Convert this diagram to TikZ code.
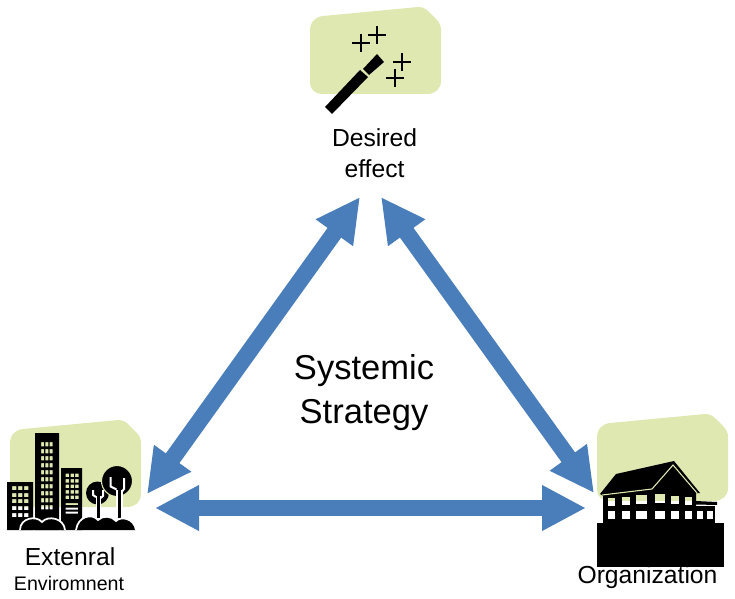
\documentclass[tikz,border=0pt]{standalone}
\usepackage{fontspec}
\setmainfont{Liberation Sans}
\usetikzlibrary{arrows.meta}
\definecolor{blobgreen}{RGB}{222,232,176}
\definecolor{arrowblue}{RGB}{74,126,187}
\tikzset{
    bigarrow/.style={draw=arrowblue,line width=12.5pt,{Triangle[length=33pt,width=32pt]}-{Triangle[length=33pt,width=32pt]}},
    blob/.pic={\fill[blobgreen] (0,24) .. controls (0,15) and (5,10) .. (13,9) -- (108,0) .. controls (113,0) and (116,2) .. (119,5) -- (126,12) .. controls (130,16) and (131,19) .. (131,24) -- (131,74) .. controls (131,82) and (125,87) .. (117,87) -- (12,87) .. controls (5,87) and (0,82) .. (0,76) -- cycle;},
    sparkle/.pic={\draw[line width=1.9pt] (-9,0)--(9,0) (0,-9)--(0,9);},
    biglabel/.style={font=\fontsize{25.9}{33}\selectfont,align=center},
    midlabel/.style={font=\fontsize{18.5}{23}\selectfont,align=center},
    smalllabel/.style={font=\fontsize{14.7}{18}\selectfont,align=center}
}
\begin{document}
\begin{tikzpicture}[x=0.75pt,y=-0.75pt]
                \useasboundingbox (0,0) rectangle (735,599);
                \pic at (310,7) {blob};
                \pic at (10,420) {blob};
                \pic at (597,414) {blob};
                \fill (325,107)--(332,114)--(368,77)--(360,70)--cycle;
                \fill (363,69)--(369,75)--(384,62)--(377,54)--cycle;
                \pic at (361,43) {sparkle};
                \pic at (377,35) {sparkle};
                \pic at (402,62) {sparkle};
                \pic at (395,78) {sparkle};
                \fill[even odd rule] (7,482) rectangle (33,530)
                    \foreach \col in {12,18,24} {\foreach \row in {486,493,499,506,513} {(\col,\row) rectangle (\col+4.4,\row+4.2)}};
                \fill[even odd rule] (35,433) rectangle (59,530)
                    \foreach \col in {41,45.3,49.6} {\foreach \row in {0,...,9} {(\col,442+7*\row) rectangle (\col+3,446.4+7*\row)}};
                \fill[even odd rule] (61,468) rectangle (82,530)
                    \foreach \col in {65.5,70.5,75} {\foreach \row in {0,...,4} {(\col,473.5+5.5*\row) rectangle (\col+3.6,477.2+5.5*\row)}}
                    (65.5,503) rectangle (78,505) (65.5,507.5) rectangle (78,509.5) (65.5,511.5) rectangle (78,513.5);
                \fill (97.5,493) circle (11.5);
                \draw[line width=0.8pt,blobgreen,fill=black] (117,481) circle (15.5);
                \draw[white,line width=3.8pt] (98.3,496)--(98.3,518);
                \draw[white,line width=4.6pt] (119.5,490)--(119.5,518);
                \draw[line width=1.8pt] (98.3,488)--(98.3,518);
                \draw[line width=2.4pt] (119.5,484)--(119.5,518);
                \draw[white,line width=1.5pt] (110.7,477)--(110.7,486.5)--(116.5,489.5) (124,478)--(124,489)--(122,491.5) (93,490)--(93,495)--(96,497) (103,490)--(103,496)--(101,498);
                \fill (20,530) .. controls (20,518) and (36,515) .. (42,522) .. controls (48,515) and (64,518) .. (65,530) -- cycle;
                \draw[white,line width=1.3pt] (20,530) .. controls (20,518) and (36,515) .. (42,522) .. controls (48,515) and (64,518) .. (65,530);
                \fill (76,530) .. controls (78,516) and (92,513) .. (98,520) .. controls (103,515) and (112,516) .. (116,521) .. controls (121,516) and (134,518) .. (136,530) -- cycle;
                \draw[white,line width=1.3pt] (76,530) .. controls (78,516) and (92,513) .. (98,520) .. controls (103,515) and (112,516) .. (116,521) .. controls (121,516) and (134,518) .. (136,530);
                \fill (597,523) rectangle (724,567);
                \fill (600,494)--(616,474)--(674,461)--(700,493)--(696,493)--(696,523)--(603,523)--(603,496)--cycle;
                \fill (696,501)--(717,502)--(717,505)--(696,504.5)--cycle;
                \fill (696,506) rectangle (715,523);
                \draw[blobgreen,line width=0.8pt] (602,495)--(652,489)--(673,465)--(697,493);
                \foreach \xa/\xb/\ya/\yb in {607.5/615/498/506,621.7/630.3/496.5/505,636.3/646.7/494.5/504,655.3/664.7/494/503,670.7/678.7/495.5/504,685/692/497/505} {
                    \fill[blobgreen] (\xa,\ya) rectangle (\xb,501);
                    \fill[white] (\xa,501) rectangle (\xb,\yb);
                }
                \foreach \xa/\xb in {607.5/615,621.7/630.3,636.3/646.7,655.3/664.7,670.7/678.7,685/692,697/703.3,707.3/713.3}
                    \fill[white] (\xa,511) rectangle (\xb,519);
                \node[midlabel] (desired) at (374.5,153){Desired\\effect};
                \node[biglabel] (strategy) at (364,393){Systemic\\Strategy};
                \node[midlabel,anchor=base] (extenral) at (70,565){Extenral};
                \node[smalllabel,anchor=base] (enviromnent) at (69,590){Enviromnent};
                \node[midlabel,anchor=base] (organization) at (647.5,583){Organization};
                \coordinate (topleft) at (360,197);
                \coordinate (topright) at (381,197);
                \coordinate (leftup) at (147,494);
                \coordinate (leftside) at (155,508);
                \coordinate (rightup) at (594,493);
                \coordinate (rightside) at (586,508);
                \draw[bigarrow] (leftup)--(topleft);
                \draw[bigarrow] (topright)--(rightup);
                \draw[bigarrow] (leftside)--(rightside);
            \end{tikzpicture}
\end{document}
